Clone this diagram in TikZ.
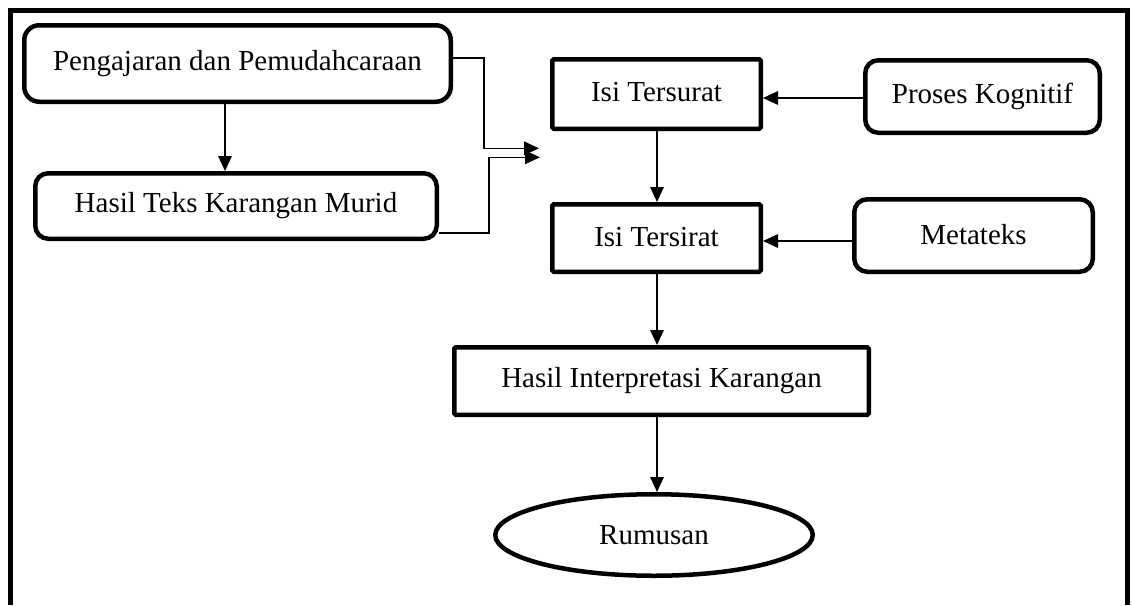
\documentclass[tikz,border=0pt]{standalone}
\usepackage{fontspec}
\setmainfont{Liberation Serif}
\usetikzlibrary{arrows.meta,shapes.geometric}
\tikzset{
  roundbox/.style={draw, line width=4.5pt, rounded corners=13pt, inner sep=0pt, align=center},
  sqbox/.style={draw, line width=4.5pt, rounded corners=1.5pt, inner sep=0pt, align=center},
  ovalbox/.style={draw, ellipse, line width=4.5pt, inner sep=0pt, align=center},
  arr/.style={line width=1.6pt, -{Triangle[length=15pt,width=13.5pt]}},
  frame/.style={line width=4.5pt, line join=miter}
}
\begin{document}
\begin{tikzpicture}[x=1pt,y=-1pt, every node/.style={font=\fontsize{29}{34}\selectfont}]
\useasboundingbox (0,0) rectangle (1132,605);
\draw[frame] (10.5,605) -- (10.5,10.5) -- (1127.5,10.5) -- (1127.5,605);

\node[roundbox, rounded corners=15pt, minimum width=426.5pt, minimum height=76.5pt] (p1) at (237.5,63.5) {\raisebox{4pt}{Pengajaran dan Pemudahcaraan}};
\node[roundbox, minimum width=401.5pt, minimum height=65.5pt] (p2) at (236,206) {Hasil Teks Karangan Murid};
\node[sqbox, minimum width=208.5pt, minimum height=69.5pt] (ts) at (656.5,94) {\raisebox{4pt}{Isi Tersurat}};
\node[sqbox, minimum width=208.5pt, minimum height=67.5pt] (tr) at (656.5,238) {\raisebox{3pt}{Isi Tersirat}};
\node[roundbox, minimum width=234.5pt, minimum height=72.5pt] (pk) at (982.5,96.5) {Proses Kognitif};
\node[roundbox, minimum width=238.5pt, minimum height=72.5pt] (mt) at (973.5,235.5) {\raisebox{2pt}{Metateks}};
\node[sqbox, minimum width=414.5pt, minimum height=67.5pt] (hi) at (661.5,381) {\raisebox{2pt}{Hasil Interpretasi Karangan}};
\node[ovalbox, minimum width=317.5pt, minimum height=81.5pt] (ru) at (654,535) {Rumusan};

\coordinate (c1) at (225,0);
\coordinate (c2) at (657,0);
\coordinate (m1) at (539,148.3);
\coordinate (m2) at (540,157.3);
\coordinate (y1) at (0,58);
\coordinate (y2) at (0,233);
\coordinate (y3) at (0,98);
\coordinate (y4) at (0,241);

\draw[arr] (p1.south -| c1) -- (p2.north -| c1);
\draw[arr] (p1.east |- y1) -- (484,58) -- (484,148.3) -- (m1);
\draw[arr] (p2.east |- y2) -- (489,233) -- (489,157.3) -- (m2);
\draw[arr] (pk.west |- y3) -- (ts.east |- y3);
\draw[arr] (mt.west |- y4) -- (tr.east |- y4);
\draw[arr] (ts.south -| c2) -- (tr.north -| c2);
\draw[arr] (tr.south -| c2) -- (hi.north -| c2);
\draw[arr] (hi.south -| c2) -- (ru.north -| c2);
\end{tikzpicture}
\end{document}
